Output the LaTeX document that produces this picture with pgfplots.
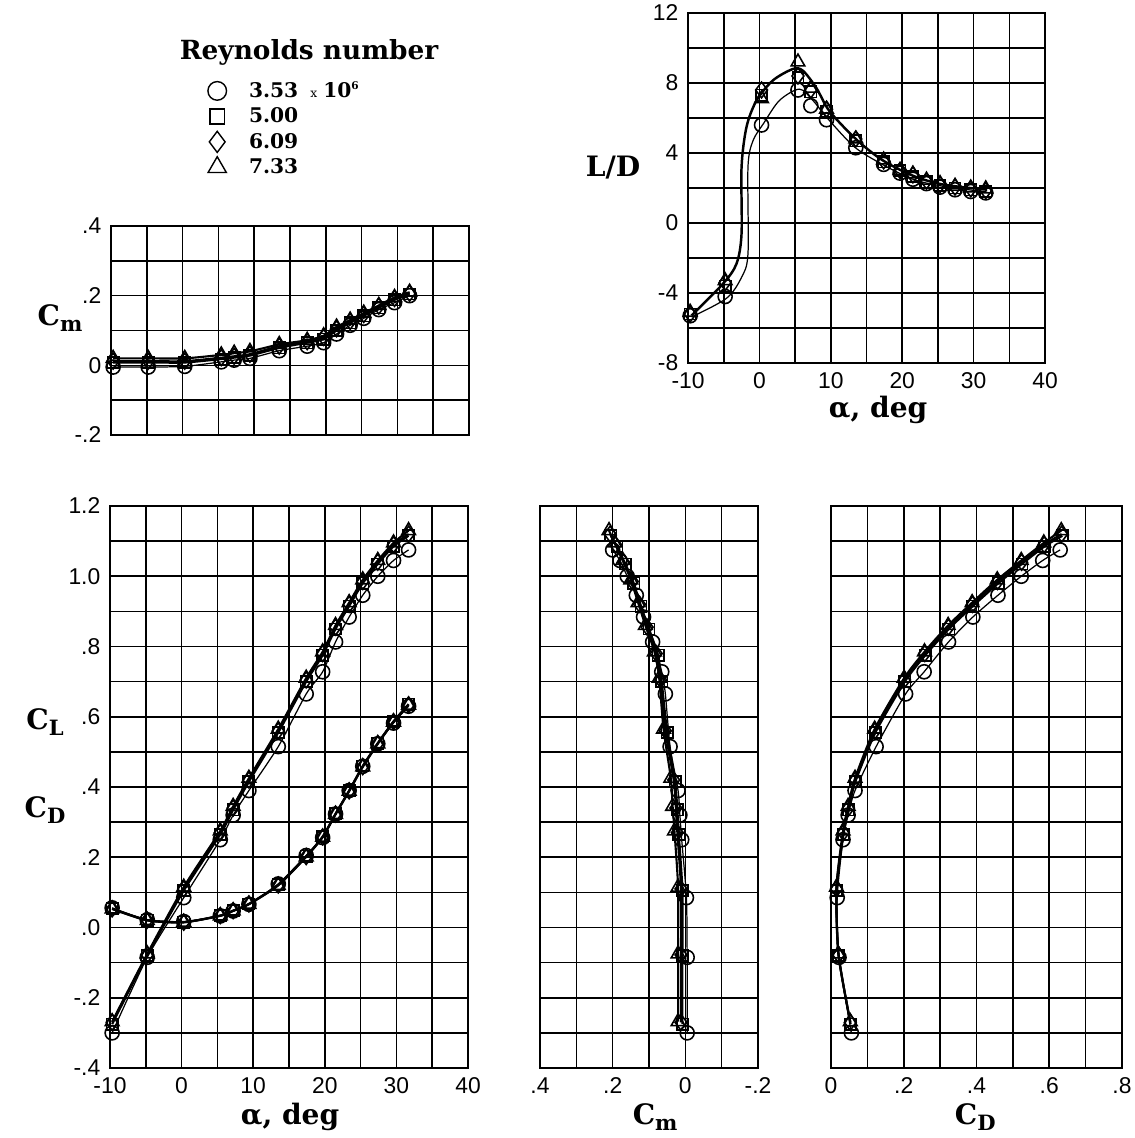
\documentclass[border=0pt]{standalone}
\usepackage{fontspec}
\setmainfont{DejaVu Serif}
\newfontfamily\tickfont{Liberation Sans}
\usepackage{pgfplots}
\usepackage{pgfplotstable}
\pgfplotsset{compat=1.18}

% alpha, lift, drag, pitching moment, lift-drag ratio for each Reynolds number
\pgfplotstableread{
a     CL     CD     Cm     LD
-9.7  -0.300 0.056 -0.005 -5.30
-4.8  -0.085 0.022 -0.005 -4.20
0.3    0.085 0.017 -0.003  5.60
5.4    0.250 0.033  0.010  7.60
7.2    0.320 0.047  0.015  6.70
9.4    0.390 0.066  0.020  5.90
13.5   0.515 0.124  0.042  4.30
17.4   0.665 0.205  0.055  3.35
19.7   0.728 0.256  0.065  2.85
21.5   0.813 0.323  0.090  2.50
23.4   0.884 0.390  0.115  2.25
25.3   0.946 0.459  0.135  2.05
27.4   1.000 0.523  0.160  1.90
29.6   1.045 0.582  0.180  1.80
31.7   1.075 0.630  0.200  1.72
}\reA
\pgfplotstableread{
a     CL     CD     Cm     LD
-9.7  -0.275 0.054  0.008 -5.20
-4.8  -0.080 0.021  0.008 -3.60
0.3    0.105 0.015  0.008  7.30
5.4    0.265 0.034  0.018  8.30
7.2    0.335 0.048  0.022  7.50
9.4    0.415 0.067  0.028  6.40
13.5   0.555 0.122  0.050  4.70
17.4   0.700 0.203  0.065  3.50
19.7   0.775 0.259  0.075  3.00
21.5   0.850 0.324  0.100  2.65
23.4   0.915 0.390  0.122  2.35
25.3   0.980 0.460  0.142  2.15
27.4   1.035 0.525  0.165  2.00
29.6   1.085 0.587  0.188  1.90
31.7   1.115 0.636  0.205  1.80
}\reB
\pgfplotstableread{
a     CL     CD     Cm     LD
-9.7  -0.270 0.053  0.012 -5.20
-4.8  -0.078 0.021  0.012 -3.40
0.3    0.110 0.015  0.012  7.60
5.4    0.270 0.034  0.022  8.40
7.2    0.340 0.048  0.026  7.60
9.4    0.420 0.067  0.032  6.50
13.5   0.560 0.121  0.055  4.80
17.4   0.705 0.202  0.068  3.55
19.7   0.780 0.258  0.080  3.00
21.5   0.855 0.323  0.105  2.75
23.4   0.920 0.389  0.126  2.40
25.3   0.985 0.458  0.146  2.20
27.4   1.040 0.524  0.170  2.05
29.6   1.090 0.586  0.192  1.95
31.7   1.120 0.634  0.207  1.85
}\reC
\pgfplotstableread{
a     CL     CD     Cm     LD
-9.7  -0.268 0.053  0.020 -5.10
-4.8  -0.075 0.020  0.020 -3.30
0.3    0.115 0.015  0.020  7.10
5.4    0.275 0.033  0.030  9.20
7.2    0.345 0.047  0.035  7.70
9.4    0.425 0.066  0.040  6.50
13.5   0.565 0.120  0.060  4.80
17.4   0.710 0.201  0.072  3.60
19.7   0.785 0.257  0.085  3.00
21.5   0.860 0.322  0.110  2.80
23.4   0.925 0.388  0.130  2.45
25.3   0.990 0.457  0.150  2.25
27.4   1.045 0.523  0.172  2.10
29.6   1.095 0.585  0.195  2.00
31.7   1.130 0.633  0.210  1.95
}\reD

\pgfplotsset{
  reA/.style={black, line width=0.7pt, smooth, tension=0.4, mark=o, mark size=4pt, mark options={line width=0.9pt, solid}},
  reB/.style={black, line width=1.2pt, smooth, tension=0.4, mark=square, mark size=3.2pt, mark options={line width=0.9pt, solid}},
  reC/.style={black, line width=1.2pt, smooth, tension=0.4, mark=diamond, mark size=4.5pt, mark options={line width=0.9pt, solid}},
  reD/.style={black, line width=1.2pt, smooth, tension=0.4, mark=triangle, mark size=4.5pt, mark options={line width=0.9pt, solid}},
  panel/.style={
    scale only axis, anchor=north west, clip=false,
    axis line style={line width=1.1pt},
    grid=both,
    major grid style={black, line width=0.9pt},
    minor grid style={black, line width=0.9pt},
    major tick length=0pt, minor tick length=0pt,
    ticklabel style={font=\tickfont\fontsize{13}{13}\selectfont},
    xticklabel style={yshift=-2pt},
    yticklabel style={xshift=-2pt},
  },
}

\newcommand\lab{\bfseries\fontsize{16}{16}\selectfont}
\newcommand\sub[1]{\raisebox{-0.45ex}{\fontsize{12}{12}\selectfont #1}}

\begin{document}
\begin{tikzpicture}
\useasboundingbox (0,0) rectangle (22.68,-22.76);

% Cm against alpha
\begin{axis}[panel, at={(2.22cm,-4.52cm)}, width=7.16cm, height=4.18cm,
  xmin=-10, xmax=40, ymin=-0.2, ymax=0.4,
  xtick={-10,0,...,40}, minor xtick={-5,5,...,35}, xticklabels={},
  ytick={-0.2,0,0.2,0.4}, minor ytick={-0.1,0.1,0.3},
  yticklabels={-.2,0,.2,.4},
  legend style={at={(axis description cs:0.255,1.72)}, anchor=north west,
    draw=none, fill=none, font=\bfseries\fontsize{11.5}{12}\selectfont,
    row sep=1.6pt, nodes={inner sep=1.4pt}},
  legend cell align=left]
\addplot[reA, forget plot] table[x=a, y=Cm] {\reA};
\addplot[reB, forget plot] table[x=a, y=Cm] {\reB};
\addplot[reC, forget plot] table[x=a, y=Cm] {\reC};
\addplot[reD, forget plot] table[x=a, y=Cm] {\reD};
\addlegendimage{only marks, mark=o, mark size=5.3pt, line width=0.8pt}
\addlegendentry{\hspace{0.4cm}3.53\hspace{0.6em}{\mdseries\fontsize{7}{7}\selectfont x}\hspace{0.3em}10\textsuperscript{\fontsize{6}{6}\selectfont 6}}
\addlegendimage{only marks, mark=square, mark size=4.2pt, line width=0.8pt}
\addlegendentry{\hspace{0.4cm}5.00}
\addlegendimage{only marks, mark=diamond, mark size=6pt, line width=0.8pt}
\addlegendentry{\hspace{0.4cm}6.09}
\addlegendimage{only marks, mark=triangle, mark size=6pt, line width=0.8pt}
\addlegendentry{\hspace{0.4cm}7.33}
\end{axis}

% L/D against alpha
\begin{axis}[panel, at={(13.76cm,-0.26cm)}, width=7.14cm, height=7.0cm,
  xmin=-10, xmax=40, ymin=-8, ymax=12,
  xtick={-10,0,...,40}, minor xtick={-5,5,...,35},
  xticklabels={-10,0,10,20,30,40},
  ytick={-8,-4,...,12}, minor ytick={-6,-2,...,10},
  yticklabels={-8,-4,0,4,8,12}]
% faired curves
\addplot[black, line width=1.4pt, smooth, tension=0.5, no marks] coordinates {
(-9.5,-5.28) (-5.1,-3.47) (-3.2,-2.32) (-2.5,-0.6) (-2.5,3.2) (-1.8,5.5)
(-0.4,7.0) (1.9,8.15) (4.7,8.8) (6.1,8.7) (8.0,7.7) (9.8,6.4) (13.5,4.8)
(17.2,3.6) (21.5,2.7) (25.7,2.2) (31.9,1.9)};
\addplot[black, line width=0.7pt, smooth, tension=0.5, no marks] coordinates {
(-9.5,-5.37) (-4.6,-4.3) (-2.5,-3.1) (-1.6,-1.75) (-1.6,3.2) (-0.9,4.7)
(0.6,5.7) (2.8,7.0) (5.6,7.65) (7.5,7.0) (9.6,5.95) (13.3,4.35) (17.0,3.4)
(21.5,2.5) (25.7,2.1) (31.9,1.77)};
\addplot[reA, only marks] table[x=a, y=LD] {\reA};
\addplot[reB, only marks] table[x=a, y=LD] {\reB};
\addplot[reC, only marks] table[x=a, y=LD] {\reC};
\addplot[reD, only marks] table[x=a, y=LD] {\reD};
\end{axis}

% CL and CD against alpha
\begin{axis}[panel, at={(2.20cm,-10.12cm)}, width=7.16cm, height=11.24cm,
  xmin=-10, xmax=40, ymin=-0.4, ymax=1.2,
  xtick={-10,0,...,40}, minor xtick={-5,5,...,35},
  xticklabels={-10,0,10,20,30,40},
  ytick={-0.4,-0.2,...,1.2}, minor ytick={-0.3,-0.1,...,1.1},
  yticklabels={-.4,-.2,.0,.2,.4,.6,.8,1.0,1.2}]
\addplot[reA] table[x=a, y=CL] {\reA};
\addplot[reB] table[x=a, y=CL] {\reB};
\addplot[reC] table[x=a, y=CL] {\reC};
\addplot[reD] table[x=a, y=CL] {\reD};
\addplot[reA] table[x=a, y=CD] {\reA};
\addplot[reB] table[x=a, y=CD] {\reB};
\addplot[reC] table[x=a, y=CD] {\reC};
\addplot[reD] table[x=a, y=CD] {\reD};
\end{axis}

% CL against Cm
\begin{axis}[panel, at={(10.80cm,-10.12cm)}, width=4.36cm, height=11.24cm,
  x dir=reverse, xmin=-0.2, xmax=0.4, ymin=-0.4, ymax=1.2,
  xtick={-0.2,0,0.2,0.4}, minor xtick={-0.1,0.1,0.3},
  xticklabels={-.2,0,.2,.4},
  ytick={-0.4,-0.2,...,1.2}, minor ytick={-0.3,-0.1,...,1.1},
  yticklabels={}]
\addplot[reA] table[x=Cm, y=CL] {\reA};
\addplot[reB] table[x=Cm, y=CL] {\reB};
\addplot[reC] table[x=Cm, y=CL] {\reC};
\addplot[reD] table[x=Cm, y=CL] {\reD};
\end{axis}

% CL against CD
\begin{axis}[panel, at={(16.62cm,-10.12cm)}, width=5.82cm, height=11.24cm,
  xmin=0, xmax=0.8, ymin=-0.4, ymax=1.2,
  xtick={0,0.2,...,0.8}, minor xtick={0.1,0.3,...,0.7},
  xticklabels={0,.2,.4,.6,.8},
  ytick={-0.4,-0.2,...,1.2}, minor ytick={-0.3,-0.1,...,1.1},
  yticklabels={}]
\addplot[reA] table[x=CD, y=CL] {\reA};
\addplot[reB] table[x=CD, y=CL] {\reB};
\addplot[reC] table[x=CD, y=CL] {\reC};
\addplot[reD] table[x=CD, y=CL] {\reD};
\end{axis}

% labels, in reference pixels
\begin{scope}[x=0.02cm, y=-0.02cm]
\node[font=\bfseries\fontsize{15}{15}\selectfont] at (309,52) {Reynolds number};
\node[font=\lab] at (60,318) {C\sub{m}};
\node[font=\lab] at (613,168) {L/D};
\node[font=\lab] at (45,722) {C\sub{L}};
\node[font=\lab] at (45,810) {C\sub{D}};
\node[font=\lab] at (290,1117) {α, deg};
\node[font=\lab] at (878,410) {α, deg};
\node[font=\lab] at (655,1117) {C\sub{m}};
\node[font=\lab] at (975,1117) {C\sub{D}};
\end{scope}
\end{tikzpicture}
\end{document}
